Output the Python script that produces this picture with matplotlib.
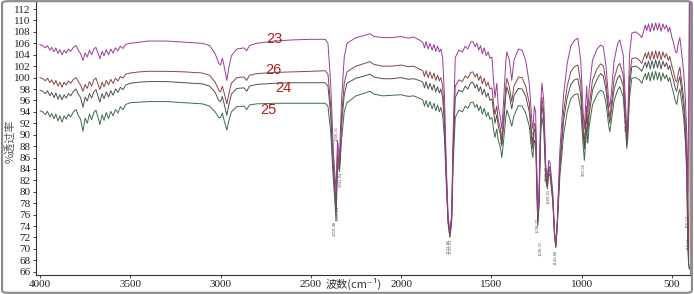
import numpy as np
import matplotlib.pyplot as plt
from matplotlib.patches import FancyBboxPatch

# wavenumber grid (cm-1)
wavenumber = [
    4000, 3985, 3970, 3958, 3945, 3935, 3922, 3912, 3900, 3890,
    3878, 3866, 3855, 3842, 3830, 3815, 3800, 3788, 3775, 3762,
    3750, 3738, 3726, 3714, 3702, 3690, 3678, 3668, 3656, 3645,
    3633, 3620, 3608, 3595, 3582, 3568, 3555, 3540, 3525, 3500,
    3450, 3400, 3300, 3200, 3100, 3060, 3030, 3010, 3000, 2990, 2980, 2965, 2955, 2940, 2910, 2870, 2855, 2840, 2800, 2700, 2600, 2500, 2420,
    2405, 2390, 2375, 2360, 2352, 2341, 2330, 2315, 2300, 2250, 2200, 2173, 2150, 2100, 2050, 2000, 1960, 1930, 1900,
    1880, 1870, 1862, 1850, 1840, 1828, 1818, 1808, 1798, 1788, 1780, 1770, 1760, 1750, 1740, 1730, 1720, 1712, 1700,
    1680, 1660, 1645, 1630, 1615, 1602, 1590, 1580, 1570, 1560, 1550, 1540, 1528, 1518, 1508, 1497,
    1488, 1480, 1470, 1462, 1450, 1442, 1432, 1420, 1414, 1400, 1387, 1375, 1350, 1330, 1310, 1290, 1275, 1270, 1262, 1255, 1243, 1236, 1226, 1220, 1210, 1198, 1190, 1182, 1175, 1160, 1150, 1143, 1135, 1121,
    1100, 1080, 1060, 1040, 1021, 1005, 992, 985, 978, 972, 966, 958, 940, 915, 895, 880, 865, 850, 844, 838, 820, 800, 789, 770, 755, 750, 745, 735, 722,
    700, 680, 667, 655, 647, 640, 630, 620, 610, 600, 590, 580, 570, 560, 550, 540, 530, 520, 512, 500, 495, 480, 473, 465, 456, 445, 435, 425, 418, 412, 407, 403,
]

t23 = [
    105.8, 105.6, 105.2, 105.6, 104.8, 105.3, 104.5, 105.2, 104.2, 104.9,
    104.0, 104.8, 104.3, 105.0, 104.6, 105.3, 105.6, 104.8, 104.2, 103.0,
    104.3, 103.6, 104.8, 104.0, 105.0, 105.3, 104.2, 103.3, 104.6, 103.8,
    104.9, 104.0, 105.0, 104.3, 105.2, 104.7, 105.5, 105.1, 105.8, 106.0,
    106.2, 106.4, 106.4, 106.2, 106.0, 105.6, 104.2, 102.5, 102.2, 103.4, 102.0, 99.5, 101.5, 103.8, 105.0, 105.2, 104.7, 105.6, 106.0, 106.4, 106.6, 106.7, 106.7,
    106.0, 99.0, 87.0, 80.0, 89.0, 86.0, 96.0, 103.5, 106.0, 107.0, 107.4, 107.7, 107.2, 107.0, 107.0, 107.2, 106.9, 107.1, 106.6,
    106.2, 105.2, 106.3, 105.0, 106.0, 104.8, 105.8, 104.6, 105.5, 104.5, 105.0, 103.5, 97.0, 85.0, 76.0, 73.0, 76.0, 90.0, 103.5,
    104.8, 104.5, 105.5, 105.0, 106.2, 106.3, 105.4, 106.0, 104.8, 105.6, 104.2, 105.2, 103.8, 104.5, 103.4, 103.6,
    99.5, 96.5, 99.0, 95.0, 93.0, 91.0, 96.0, 103.0, 104.5, 103.0, 99.5, 103.0, 105.0, 104.8, 103.0, 99.0, 92.0, 91.0, 95.0, 94.0, 76.0, 80.0, 96.0, 99.0, 96.0, 84.0, 82.5, 85.5, 85.0, 80.0, 73.0, 71.0, 75.0, 87.0,
    97.0, 102.5, 105.5, 106.5, 106.9, 103.0, 94.0, 91.0, 95.0, 98.5, 94.0, 98.0, 103.0, 105.0, 105.7, 105.4, 102.0, 96.0, 94.8, 96.5, 103.0, 106.0, 106.6, 104.0, 94.0, 90.0, 92.0, 104.0, 107.8,
    108.0, 107.5, 107.0, 108.3, 109.2, 108.2, 109.4, 108.0, 109.5, 108.2, 109.6, 108.3, 109.5, 108.1, 109.4, 108.5, 109.2, 108.0, 108.8, 107.0, 106.6, 104.5, 104.3, 106.0, 107.0, 104.0, 101.0, 96.0, 90.0, 80.0, 95.0, 115.0,
]

t26 = [
    100.0, 99.8, 99.45, 99.9, 99.1, 99.6, 98.8, 99.5, 98.5, 99.2,
    98.3, 99.2, 98.7, 99.4, 99.0, 99.7, 100.0, 99.3, 98.7, 97.6,
    98.8, 98.1, 99.3, 98.5, 99.6, 99.9, 98.8, 97.9, 99.2, 98.4,
    99.5, 98.7, 99.7, 99.0, 99.9, 99.4, 100.2, 99.9, 100.6, 100.8,
    101.0, 101.1, 101.1, 101.0, 100.8, 100.4, 99.2, 97.8, 97.5, 98.5, 97.3, 95.4, 97.0, 99.0, 100.0, 100.1, 99.5, 100.4, 100.7, 100.9, 101.0, 101.1, 101.2,
    100.6, 95.0, 85.0, 78.0, 87.5, 84.5, 93.0, 99.0, 101.0, 102.0, 102.5, 102.8, 102.3, 102.0, 102.0, 102.2, 101.9, 102.0, 101.5,
    101.2, 100.2, 101.2, 100.0, 101.0, 99.8, 100.8, 99.5, 100.4, 99.4, 100.0, 98.6, 93.5, 83.5, 75.5, 72.5, 75.5, 87.5, 98.5,
    99.6, 99.3, 100.3, 99.9, 100.9, 101.0, 100.1, 100.7, 99.5, 100.3, 98.9, 99.9, 98.5, 99.2, 98.0, 98.2,
    95.5, 93.5, 95.0, 92.5, 91.0, 89.0, 93.0, 98.5, 99.9, 98.3, 95.8, 98.5, 100.1, 100.0, 98.5, 95.5, 89.5, 88.5, 92.0, 91.5, 75.0, 78.8, 93.5, 96.6, 94.0, 83.0, 81.5, 84.5, 84.0, 79.2, 72.6, 70.6, 74.5, 85.0,
    94.0, 98.5, 101.0, 101.9, 102.2, 99.0, 91.5, 88.5, 92.0, 95.0, 91.5, 95.0, 99.5, 101.5, 102.4, 102.1, 99.3, 94.3, 93.0, 94.6, 99.8, 102.0, 102.5, 100.5, 92.5, 89.0, 90.8, 100.0, 103.3,
    103.5, 103.0, 102.5, 103.6, 104.3, 103.3, 104.5, 103.1, 104.6, 103.2, 104.7, 103.3, 104.6, 103.1, 104.5, 103.5, 104.2, 103.0, 103.7, 102.0, 101.5, 99.5, 99.2, 100.8, 101.8, 99.0, 96.5, 92.0, 86.0, 75.0, 68.0, 113.5,
]

t24 = [
    97.8, 97.6, 97.2, 97.7, 96.8, 97.4, 96.5, 97.3, 96.2, 97.0,
    96.1, 97.0, 96.4, 97.2, 96.8, 97.6, 98.0, 97.1, 96.5, 94.8,
    96.6, 95.9, 97.2, 96.4, 97.5, 97.9, 96.7, 95.7, 97.2, 96.3,
    97.5, 96.6, 97.7, 96.9, 98.0, 97.4, 98.3, 97.9, 98.7, 99.0,
    99.2, 99.3, 99.3, 99.1, 98.9, 98.5, 97.4, 96.0, 95.8, 96.7, 95.4, 93.4, 95.1, 97.1, 98.1, 98.2, 97.6, 98.5, 98.8, 99.0, 99.1, 99.1, 99.1,
    98.5, 93.5, 84.0, 76.5, 86.5, 84.0, 91.5, 97.0, 99.0, 99.9, 100.3, 100.6, 100.1, 99.8, 99.8, 100.0, 99.7, 99.8, 99.5,
    99.2, 98.2, 99.3, 98.0, 99.0, 97.8, 98.8, 97.5, 98.4, 97.3, 98.0, 96.6, 92.0, 82.8, 75.0, 72.2, 75.0, 86.5, 96.5,
    97.8, 97.5, 98.5, 98.0, 99.1, 99.2, 98.2, 98.8, 97.6, 98.4, 97.0, 98.0, 96.6, 97.3, 96.0, 96.3,
    94.0, 92.0, 93.5, 91.5, 90.0, 88.0, 91.5, 97.0, 98.4, 96.8, 94.5, 96.8, 98.1, 98.0, 96.8, 94.0, 88.5, 87.5, 91.0, 90.5, 74.6, 78.2, 92.5, 95.1, 92.8, 82.5, 81.0, 84.0, 83.5, 78.8, 72.4, 70.4, 74.2, 84.0,
    92.5, 96.5, 98.8, 99.6, 99.8, 97.0, 90.3, 87.5, 90.8, 93.5, 90.5, 93.5, 97.8, 99.7, 100.7, 100.3, 97.8, 93.2, 92.0, 93.5, 98.0, 100.0, 100.4, 98.6, 91.5, 88.3, 90.0, 98.5, 101.9,
    102.0, 101.6, 101.1, 102.1, 102.7, 101.7, 102.9, 101.5, 103.0, 101.6, 103.1, 101.7, 103.0, 101.5, 102.9, 101.9, 102.6, 101.4, 102.1, 100.5, 100.0, 98.0, 97.6, 99.2, 100.2, 97.5, 95.0, 90.5, 84.5, 72.0, 67.5, 66.5,
]

t25 = [
    94.2, 94.0, 93.5, 94.1, 93.1, 93.7, 92.8, 93.6, 92.4, 93.3,
    92.2, 93.3, 92.7, 93.6, 93.1, 94.0, 94.4, 93.4, 92.7, 90.6,
    92.9, 92.0, 93.6, 92.6, 93.9, 94.3, 92.9, 91.8, 93.5, 92.5,
    93.9, 92.8, 94.1, 93.3, 94.4, 93.8, 94.9, 94.4, 95.3, 95.6,
    95.7, 95.8, 95.8, 95.6, 95.4, 95.0, 94.0, 93.0, 93.0, 93.8, 92.5, 90.8, 92.3, 94.0, 94.9, 95.0, 94.4, 95.2, 95.4, 95.5, 95.5, 95.5, 95.5,
    95.0, 90.5, 82.0, 75.0, 85.0, 83.5, 89.0, 94.0, 95.6, 96.8, 97.3, 97.6, 97.1, 96.8, 96.9, 97.0, 96.7, 96.8, 96.4,
    96.1, 95.0, 96.0, 94.8, 95.8, 94.5, 95.5, 94.2, 95.2, 94.0, 94.8, 93.5, 89.5, 81.5, 74.5, 72.0, 74.5, 84.5, 93.0,
    94.3, 94.0, 95.0, 94.6, 95.6, 95.7, 94.8, 95.3, 94.2, 95.0, 93.6, 94.6, 93.2, 93.9, 92.7, 93.0,
    91.0, 89.5, 91.0, 89.0, 87.8, 86.0, 89.0, 93.0, 94.3, 93.0, 91.5, 93.3, 95.1, 95.0, 93.8, 91.5, 86.8, 86.0, 89.0, 88.5, 74.0, 77.5, 90.5, 93.1, 91.0, 81.8, 80.5, 83.2, 82.8, 78.3, 72.2, 70.2, 73.8, 82.5,
    90.0, 94.0, 96.3, 97.0, 97.2, 94.5, 88.3, 85.5, 88.5, 91.3, 88.5, 91.5, 95.2, 97.0, 97.8, 97.5, 95.5, 91.5, 90.5, 91.8, 96.0, 97.9, 98.4, 96.7, 90.3, 87.6, 89.2, 96.5, 99.9,
    100.0, 99.6, 99.0, 100.1, 100.7, 99.6, 100.9, 99.4, 101.0, 99.6, 101.1, 99.6, 100.9, 99.4, 100.8, 99.8, 100.5, 99.3, 100.0, 98.3, 97.8, 95.8, 95.3, 97.0, 98.0, 95.5, 93.0, 88.5, 83.0, 70.0, 67.0, 66.5,
]

series_names = ["25", "24", "26", "23"]
series_colors = ["#3f6b4a", "#505050", "#8a4545", "#9a3c9a"]

# curve labels: (wavenumber, transmittance)
name_pos = {"23": (2700, 106.7), "26": (2710, 101.3), "24": (2650, 98.1), "25": (2735, 94.4)}

# peak annotations: (wavenumber, top of text, text)
peak_wn = [2356, 2350, 2367, 2336, 1734, 1726, 1435, 1269, 1243, 1229, 1195, 1184, 1143, 986, 966, 749, 414, 405]
peak_top = [91.5, 77.5, 75.0, 83.5, 71.8, 71.8, 91.0, 91.0, 75.5, 71.5, 84.5, 80.5, 69.8, 85.0, 91.0, 93.0, 76.0, 72.0]
peak_txt = ["2360.31", "2360.13", "2359.48", "2341.84", "1722.86", "1722.31", "1435.10", "1269.40",
            "1238.37", "1228.31", "1190.38", "1189.65", "1142.88", "985.96", "966.43", "749.20", "416.52", "410.25"]

assert len(wavenumber) == len(t23) == len(t26) == len(t24) == len(t25)

plt.rcParams['font.family'] = ['Liberation Serif', 'DejaVu Sans']

fig = plt.figure(figsize=(6.94, 2.94), dpi=100)
ax = fig.add_axes([0.0524, 0.066, 0.9418, 0.9265])

for name, col in zip(series_names, series_colors):
    vals = {"23": t23, "26": t26, "24": t24, "25": t25}[name]
    ax.plot(wavenumber, vals, color=col, lw=0.7)

for name, (x, y) in name_pos.items():
    ax.text(x, y, name, color="#b01e1e", fontsize=10.5, ha="center", va="center",
            family=["Liberation Sans", "DejaVu Sans"])

for x, y, s in zip(peak_wn, peak_top, peak_txt):
    ax.text(x, y, s, rotation=90, fontsize=3.4, color="#555555", ha="center", va="top")

ax.set_xlim(4020, 400)
ax.set_ylim(65.5, 113.2)
ax.set_xticks([4000, 3500, 3000, 2500, 2000, 1500, 1000, 500])
ax.set_yticks(np.arange(66, 113, 2))
ax.tick_params(labelsize=8, length=2.5, width=0.6, pad=1.5, colors="#222222")

for side in ["left", "bottom"]:
    ax.spines[side].set_color("#333333")
    ax.spines[side].set_linewidth(0.8)
ax.spines["top"].set_visible(False)
ax.spines["right"].set_color("#999999")

fig.text(0.51, 0.012, "波数(cm⁻¹)", fontsize=8, color="#333333", ha="center", va="bottom",
         family=["Noto Sans CJK SC", "DejaVu Sans"])
fig.text(0.014, 0.52, "%透过率", fontsize=8, color="#555555", rotation=90, ha="center", va="center",
         family=["Noto Sans CJK SC", "DejaVu Sans"])

fig.patches.append(FancyBboxPatch((0.003, 0.004), 0.994, 0.992, boxstyle="round,pad=0,rounding_size=0.008",
                                  transform=fig.transFigure, fill=False, ec="#8a8a8a", lw=1.5))

fig.savefig("out.png", dpi=100)
